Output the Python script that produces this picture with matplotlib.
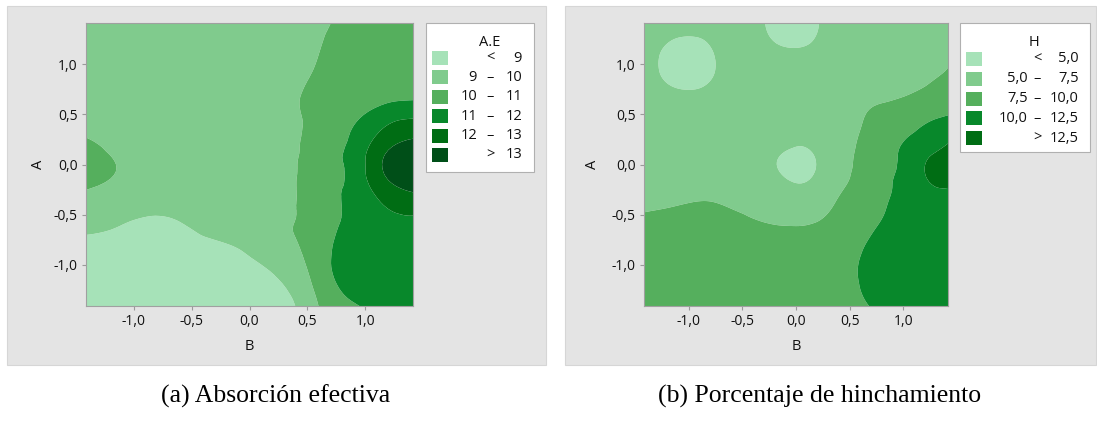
import matplotlib
matplotlib.use("Agg")
import matplotlib.pyplot as plt
import matplotlib.tri as mtri
from matplotlib.patches import Rectangle
import numpy as np

# %% Data: response surfaces
# coded factor levels (B across, A up)
ae_B = [-1.414, -1.131, -0.849, -0.566, -0.283, 0.0, 0.283, 0.566, 0.849, 1.131, 1.414]
ae_A = [-1.414, -1.131, -0.849, -0.566, -0.283, 0.0, 0.283, 0.566, 0.849, 1.131, 1.414]
# absorcion efectiva, one row per A level (bottom to top)
ae_Z = [
    [8.30, 8.30, 8.30, 8.35, 8.45, 8.50, 8.60, 9.85, 10.82, 11.16, 11.20],
    [8.50, 8.50, 8.40, 8.45, 8.60, 8.75, 9.10, 10.22, 11.38, 11.50, 11.45],
    [8.75, 8.70, 8.60, 8.70, 8.85, 9.10, 9.60, 10.43, 11.41, 11.60, 11.60],
    [9.30, 9.10, 8.90, 9.05, 9.30, 9.40, 9.76, 10.43, 11.15, 11.60, 11.81],
    [9.93, 9.70, 9.50, 9.50, 9.50, 9.50, 9.49, 10.67, 11.10, 12.28, 12.98],
    [10.30, 9.97, 9.70, 9.60, 9.55, 9.50, 9.40, 10.67, 11.10, 12.91, 13.45],
    [9.98, 9.75, 9.65, 9.60, 9.55, 9.50, 9.50, 10.40, 10.97, 12.20, 12.90],
    [9.80, 9.70, 9.65, 9.60, 9.55, 9.50, 9.55, 10.36, 10.60, 11.10, 11.38],
    [9.70, 9.65, 9.60, 9.55, 9.50, 9.50, 9.60, 10.11, 10.35, 10.30, 10.44],
    [9.60, 9.60, 9.55, 9.50, 9.50, 9.55, 9.65, 9.95, 10.23, 10.30, 10.30],
    [9.50, 9.55, 9.50, 9.50, 9.50, 9.60, 9.75, 9.90, 10.10, 10.20, 10.20],
]
ae_levels = [0, 9, 10, 11, 12, 13, 20]
ae_rows = [("", "<", "9"), ("9", "–", "10"), ("10", "–", "11"),
           ("11", "–", "12"), ("12", "–", "13"), ("", ">", "13")]

h_B = [-1.414, -1.212, -1.010, -0.808, -0.606, -0.404, -0.202, 0.0,
       0.202, 0.404, 0.606, 0.808, 1.010, 1.212, 1.414]
h_A = [-1.414, -1.212, -1.010, -0.808, -0.606, -0.404, -0.202, 0.0,
       0.202, 0.404, 0.606, 0.808, 1.010, 1.212, 1.414]
# porcentaje de hinchamiento
h_Z = [
    [8.9, 8.9, 8.9, 8.85, 8.75, 8.7, 8.75, 8.9, 9.1, 9.4, 9.8, 10.4, 10.9, 11.1, 11.0],
    [8.8, 8.85, 8.85, 8.8, 8.7, 8.65, 8.7, 8.85, 9.1, 9.55, 10.05, 10.8, 11.2, 11.3, 11.2],
    [8.6, 8.7, 8.75, 8.7, 8.6, 8.55, 8.6, 8.75, 9.0, 9.5, 10.1, 10.9, 11.3, 11.4, 11.3],
    [8.3, 8.45, 8.5, 8.5, 8.4, 8.3, 8.25, 8.4, 8.7, 9.2, 9.85, 10.7, 11.2, 11.4, 11.4],
    [7.85, 8.0, 8.1, 8.1, 7.95, 7.7, 7.52, 7.45, 7.7, 8.4, 9.3, 10.2, 11.0, 11.5, 11.6],
    [7.3, 7.4, 7.55, 7.6, 7.4, 7.1, 6.7, 6.4, 6.7, 7.8, 8.8, 9.8, 10.8, 11.7, 11.9],
    [6.8, 6.8, 6.85, 6.9, 6.7, 6.3, 5.8, 5.1, 5.7, 7.1, 8.3, 9.6, 10.6, 12.2, 12.65],
    [6.4, 6.3, 6.2, 6.1, 6.0, 5.7, 5.1, 4.5, 5.1, 6.7, 8.0, 9.4, 10.5, 12.6, 13.2],
    [6.3, 6.2, 6.1, 6.0, 5.95, 5.8, 5.5, 5.1, 5.5, 6.6, 7.8, 9.1, 10.15, 11.4, 12.55],
    [6.2, 6.1, 6.0, 6.0, 6.0, 5.95, 5.85, 5.7, 5.9, 6.4, 7.45, 8.5, 9.2, 10.05, 10.8],
    [5.9, 5.7, 5.6, 5.7, 5.9, 6.0, 6.0, 6.0, 6.1, 6.4, 7.1, 7.55, 7.95, 8.4, 9.0],
    [5.7, 5.05, 4.7, 5.05, 5.7, 6.0, 6.0, 6.0, 6.05, 6.2, 6.4, 6.7, 7.0, 7.45, 7.8],
    [5.6, 4.7, 4.2, 4.7, 5.6, 5.9, 5.8, 5.8, 5.9, 6.0, 6.2, 6.5, 6.8, 7.1, 7.45],
    [5.7, 5.05, 4.7, 5.05, 5.7, 5.6, 5.05, 4.75, 5.25, 5.8, 6.0, 6.3, 6.6, 6.85, 7.1],
    [5.9, 5.7, 5.6, 5.7, 5.8, 5.45, 4.65, 4.3, 4.95, 5.65, 6.0, 6.2, 6.4, 6.6, 6.8],
]
h_levels = [0, 5, 7.5, 10, 12.5, 20]
h_rows = [("", "<", "5,0"), ("5,0", "–", "7,5"), ("7,5", "–", "10,0"),
          ("10,0", "–", "12,5"), ("", ">", "12,5")]

greens = ["#a6e2b8", "#80cb8d", "#55af5d", "#08882b", "#006d14", "#004f18"]
ticks = [-1.0, -0.5, 0.0, 0.5, 1.0]
tick_labels = ["-1,0", "-0,5", "0,0", "0,5", "1,0"]
captions = ["(a) Absorción efectiva", "(b) Porcentaje de hinchamiento"]

# %% Figure
W, H = 1097, 423
plt.rcParams['font.family'] = ['Open Sans', 'DejaVu Sans']
fig = plt.figure(figsize=(W / 100, H / 100), dpi=100)
INK = "#111111"


def fx(x):
    return x / W


def fy(y):
    return 1 - y / H


def panel(x0, x1, y0, y1):
    fig.patches.append(Rectangle((fx(x0), fy(y1)), fx(x1 - x0), (y1 - y0) / H,
                                 transform=fig.transFigure, facecolor="#e4e4e4",
                                 edgecolor="#d6d6d6", lw=0.8, zorder=-1))


def contour_axes(rect, B, A, Z, levels, ylab_x):
    x0, x1, y0, y1 = rect
    ax = fig.add_axes([fx(x0), fy(y1), fx(x1 - x0), (y1 - y0) / H], zorder=2)
    bb, aa = np.meshgrid(B, A)
    tri = mtri.Triangulation(bb.ravel(), aa.ravel())
    # smooth the grid with matplotlib's refiner, like Minitab's smooth contours
    tri_f, z_f = mtri.UniformTriRefiner(tri).refine_field(np.ravel(Z), subdiv=3)
    ax.tricontourf(tri_f, z_f, levels=levels, colors=greens[:len(levels) - 1],
                   antialiased=True)
    ax.set_xlim(-1.414, 1.414)
    ax.set_ylim(-1.414, 1.414)
    ax.set_xticks(ticks, tick_labels)
    ax.set_yticks(ticks, tick_labels)
    ax.tick_params(length=3, width=0.8, color="#9a9a9a", labelsize=10,
                   labelcolor=INK, pad=3)
    for s in ax.spines.values():
        s.set_color("#a0a0a0")
        s.set_linewidth(0.8)
    ax.set_xlabel("B", fontsize=10.5, color=INK, labelpad=7)
    fig.text(fx(ylab_x), fy(164), "A", rotation=90, fontsize=10.5,
             color=INK, ha="center", va="center")
    return ax


def legend_box(box, title, title_x, rows, patch_x, row_y, low_x, sym_x, high_x):
    x0, x1, y0, y1 = box
    fig.patches.append(Rectangle((fx(x0), fy(y1)), fx(x1 - x0), (y1 - y0) / H,
                                 transform=fig.transFigure, facecolor="white",
                                 edgecolor="#b0b0b0", lw=0.8, zorder=1))
    fig.text(fx(title_x), fy(43), title, fontsize=10.5, ha="center", va="center",
             color=INK)
    for i, (lo, sym, hi) in enumerate(rows):
        y = row_y[0] + i * row_y[1]
        fig.patches.append(Rectangle((fx(patch_x), fy(y + 7)), fx(16), 14 / H,
                                     transform=fig.transFigure,
                                     facecolor=greens[i], edgecolor="none", zorder=2))
        if lo:
            fig.text(fx(low_x), fy(y), lo, fontsize=10.5, ha="right", va="center",
                     color=INK)
        fig.text(fx(sym_x), fy(y), sym, fontsize=10.5, ha="center", va="center",
                 color=INK)
        fig.text(fx(high_x), fy(y), hi, fontsize=10.5, ha="right", va="center",
                 color=INK)


# left panel
panel(7, 546, 6, 365)
contour_axes((86, 413, 23, 306), ae_B, ae_A, ae_Z, ae_levels, 39)
legend_box((426, 534, 23, 172), "A.E", 490, ae_rows, 432, (58, 19.4), 477, 490, 522)

# right panel
panel(565, 1096, 6, 365)
contour_axes((644, 948, 23, 306), h_B, h_A, h_Z, h_levels, 593)
legend_box((960, 1090, 23, 152), "H", 1034, h_rows, 966, (59, 19.8), 1028, 1037, 1079)

# captions
fig.text(fx(276), fy(396), captions[0], fontsize=18.5, family="Liberation Serif",
         ha="center", va="center")
fig.text(fx(820), fy(396), captions[1], fontsize=18.5, family="Liberation Serif",
         ha="center", va="center")

fig.savefig("out.png", dpi=100, facecolor="white")
